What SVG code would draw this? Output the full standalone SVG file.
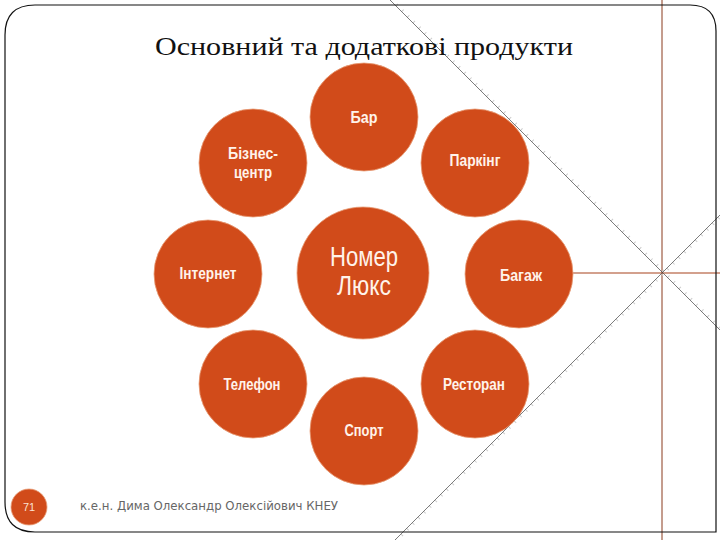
<svg xmlns="http://www.w3.org/2000/svg" width="720" height="540" viewBox="0 0 720 540">
<style>
.n circle{fill:#d14b1a;stroke:#e8a07a;stroke-width:0.8}
.n text{fill:#fff3ea;font-family:"Liberation Sans Narrow","Liberation Sans",sans-serif;font-size:17px;font-weight:bold;text-anchor:middle}
.n text.big{font-size:27px;font-weight:normal}
.deco{fill:none}
.diag{stroke:#444;stroke-width:0.7}
.tick{stroke:#ccc;stroke-width:3;stroke-dasharray:1 7}
</style>
<rect width="720" height="540" fill="#fff"/>
<g id="decor" class="deco">
<line x1="662" y1="0" x2="662" y2="540" stroke="#8a3a1c" stroke-width="1"/>
<line x1="560" y1="273" x2="720" y2="273" stroke="#a8431c" stroke-width="1.2"/>
<line class="tick" x1="391" y1="-1" x2="721" y2="329"/>
<line class="tick" x1="396" y1="541" x2="721" y2="216"/>
<line class="diag" x1="390" y1="0" x2="720" y2="330"/>
<line class="diag" x1="395" y1="540" x2="720" y2="215"/>
<path d="M35,5 H690 Q716,5 716,31 V532 H35 Q5,532 5,502 V35 Q5,5 35,5 Z" stroke="#111" stroke-width="1.2"/>
</g>
<text x="364" y="55" font-family="Liberation Serif, serif" font-size="25" fill="#111" text-anchor="middle" textLength="418" lengthAdjust="spacingAndGlyphs">Основний та додаткові продукти</text>
<g id="connectors"></g>
<g id="bar" class="n"><circle cx="364" cy="117" r="54"/><text x="364" y="123" textLength="27" lengthAdjust="spacingAndGlyphs">Бар</text></g>
<g id="biznes" class="n"><circle cx="253" cy="163" r="54"/><text x="253" y="159" textLength="50" lengthAdjust="spacingAndGlyphs">Бізнес-</text><text x="253" y="178" textLength="38" lengthAdjust="spacingAndGlyphs">центр</text></g>
<g id="parking" class="n"><circle cx="475" cy="163" r="54"/><text x="475" y="166" textLength="51" lengthAdjust="spacingAndGlyphs">Паркінг</text></g>
<g id="internet" class="n"><circle cx="208" cy="274" r="54"/><text x="208" y="279" textLength="57" lengthAdjust="spacingAndGlyphs">Інтернет</text></g>
<g id="nomer" class="n"><circle cx="363" cy="273" r="66"/><text class="big" x="364" y="266" textLength="68" lengthAdjust="spacingAndGlyphs">Номер</text><text class="big" x="364" y="295" textLength="54" lengthAdjust="spacingAndGlyphs">Люкс</text></g>
<g id="bagazh" class="n"><circle cx="519" cy="274" r="54"/><text x="521" y="281" textLength="42" lengthAdjust="spacingAndGlyphs">Багаж</text></g>
<g id="telefon" class="n"><circle cx="253" cy="384" r="54"/><text x="252" y="390" textLength="57" lengthAdjust="spacingAndGlyphs">Телефон</text></g>
<g id="restoran" class="n"><circle cx="475" cy="384" r="54"/><text x="474" y="390" textLength="62" lengthAdjust="spacingAndGlyphs">Ресторан</text></g>
<g id="sport" class="n"><circle cx="364" cy="431" r="54"/><text x="364" y="436" textLength="39" lengthAdjust="spacingAndGlyphs">Спорт</text></g>
<g id="page"><circle cx="29" cy="507" r="18" fill="#d14b1a" stroke="#e8a07a" stroke-width="0.8"/><text x="29" y="511" font-family="Liberation Sans, sans-serif" font-size="11" fill="#fbe2d2" text-anchor="middle">71</text></g>
<text x="80" y="510" font-family="DejaVu Sans Condensed, Liberation Sans, sans-serif" font-size="13" fill="#666" textLength="258" lengthAdjust="spacingAndGlyphs">к.е.н. Дима Олександр Олексійович КНЕУ</text>
</svg>
